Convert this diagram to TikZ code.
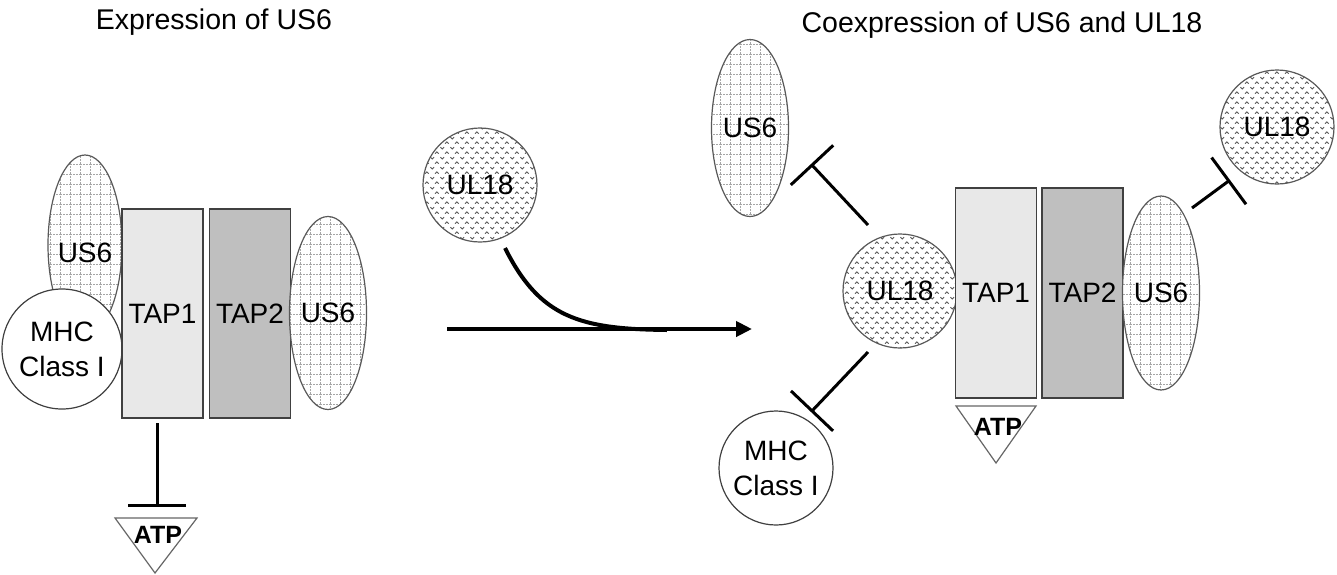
\documentclass[tikz,border=0pt]{standalone}
\usepackage{fontspec}
\setmainfont{Liberation Sans}
\usetikzlibrary{arrows.meta,patterns,shapes.geometric}
\pgfdeclarepatternformonly{usgrid}{\pgfpoint{-1pt}{-1pt}}{\pgfpoint{11pt}{11pt}}{\pgfpoint{10pt}{10pt}}{%
  \pgfsetlinewidth{0.8pt}\pgfsetdash{{2pt}{1pt}}{0pt}%
  \pgfpathmoveto{\pgfpoint{0pt}{0pt}}\pgfpathlineto{\pgfpoint{10pt}{0pt}}%
  \pgfpathmoveto{\pgfpoint{0pt}{0pt}}\pgfpathlineto{\pgfpoint{0pt}{10pt}}%
  \pgfusepath{stroke}}
\pgfdeclarepatternformonly{chev}{\pgfpoint{0pt}{0pt}}{\pgfpoint{10pt}{10pt}}{\pgfpoint{10pt}{10pt}}{%
  \pgfsetlinewidth{1pt}%
  \pgfpathmoveto{\pgfpoint{0.5pt}{8.5pt}}\pgfpathlineto{\pgfpoint{2.5pt}{6.5pt}}\pgfpathlineto{\pgfpoint{4.5pt}{8.5pt}}%
  \pgfpathmoveto{\pgfpoint{5.5pt}{1.5pt}}\pgfpathlineto{\pgfpoint{7.5pt}{3.5pt}}\pgfpathlineto{\pgfpoint{9.5pt}{1.5pt}}%
  \pgfusepath{stroke}}
\tikzset{
  lbl/.style={font=\fontsize{28}{32}\selectfont},
  title/.style={font=\fontsize{28.5}{32}\selectfont},
  tapone/.style={draw=black!75, line width=1.3pt, fill=black!9, minimum width=81pt, minimum height=209pt, inner sep=0pt, lbl},
  taptwo/.style={tapone, fill=black!25},
  usell/.style={ellipse, draw=black!65, line width=1.2pt, preaction={fill=white}, pattern=usgrid, pattern color=black!35, inner sep=0pt, lbl},
  ulcirc/.style={circle, draw=black!65, line width=1.2pt, preaction={fill=white}, pattern=chev, pattern color=black!65, minimum size=114pt, inner sep=0pt, lbl},
  mhc/.style={circle, draw=black!75, line width=1.2pt, fill=white, inner sep=0pt, align=center, font=\fontsize{28}{35}\selectfont},
  atptri/.style={draw=black!60, line width=1.2pt, fill=white},
  atptext/.style={font=\bfseries\fontsize{25}{28}\selectfont},
  inhib/.style={line width=3pt, -{Bar[width=58pt]}},
  mainarrow/.style={line width=4pt, -{Triangle[length=16pt,width=15pt]}}
}
\begin{document}
\begin{tikzpicture}[x=1pt,y=-1pt]
\useasboundingbox (0,0) rectangle (1337,574);
% titles
\node[title] (t1) at (214,22) {Expression of US6};
\node[title] (t2) at (1002,25) {Coexpression of US6 and UL18};
% ---- left panel ----
\node[usell, minimum width=74pt, minimum height=180pt] (usL1) at (85,245) {};
\node[lbl] (usL1t) at (85,253) {US6};
\node[mhc, minimum size=120pt] (mhcL) at (62,349) {MHC\\Class I};
\node[tapone] (tap1L) at (162.5,313.5) {TAP1};
\node[taptwo] (tap2L) at (250,313.5) {TAP2};
\node[usell, minimum width=70pt, minimum height=193pt] (usL2) at (328,313) {US6};
\draw[atptri] (115,518) -- (197,518) -- (155,573) -- cycle;
\node[atptext] (atpL) at (158,535) {ATP};
\coordinate (stemL) at (157,423);
\coordinate (barL) at (157,507);
\draw[inhib] (stemL) -- (barL);
% ---- middle ----
\node[ulcirc] (ulM) at (480,185) {UL18};
\coordinate (arrS) at (447,329);
\coordinate (arrE) at (752,329);
\draw[mainarrow] (arrS) -- (arrE);
\coordinate (curS) at (505,248);
\coordinate (curE) at (667,330);
\draw[line width=4pt] (curS) .. controls (540,318) and (580,329) .. (curE);
% ---- right panel ----
\node[usell, minimum width=69pt, minimum height=177pt] (usR1) at (750,128) {US6};
\node[ulcirc] (ulR1) at (900,291) {UL18};
\node[tapone, minimum height=210pt] (tap1R) at (996,293) {TAP1};
\node[taptwo, minimum height=210pt] (tap2R) at (1082.5,293) {TAP2};
\node[usell, minimum width=73pt, minimum height=194pt] (usR2) at (1161,293) {US6};
\node[ulcirc] (ulR2) at (1277,127) {UL18};
\node[mhc, minimum size=114pt] (mhcR) at (776,468) {MHC\\Class I};
\draw[atptri] (956,406) -- (1036,406) -- (996,463) -- cycle;
\node[atptext] (atpR) at (998,427) {ATP};
\coordinate (s1) at (868,225);
\coordinate (b1) at (811,164);
\draw[inhib] (s1) -- (b1);
\coordinate (s2) at (868,352);
\coordinate (b2) at (811,412);
\draw[inhib] (s2) -- (b2);
\coordinate (s3) at (1192,208);
\coordinate (b3) at (1230,180);
\draw[inhib] (s3) -- (b3);
\end{tikzpicture}
\end{document}
